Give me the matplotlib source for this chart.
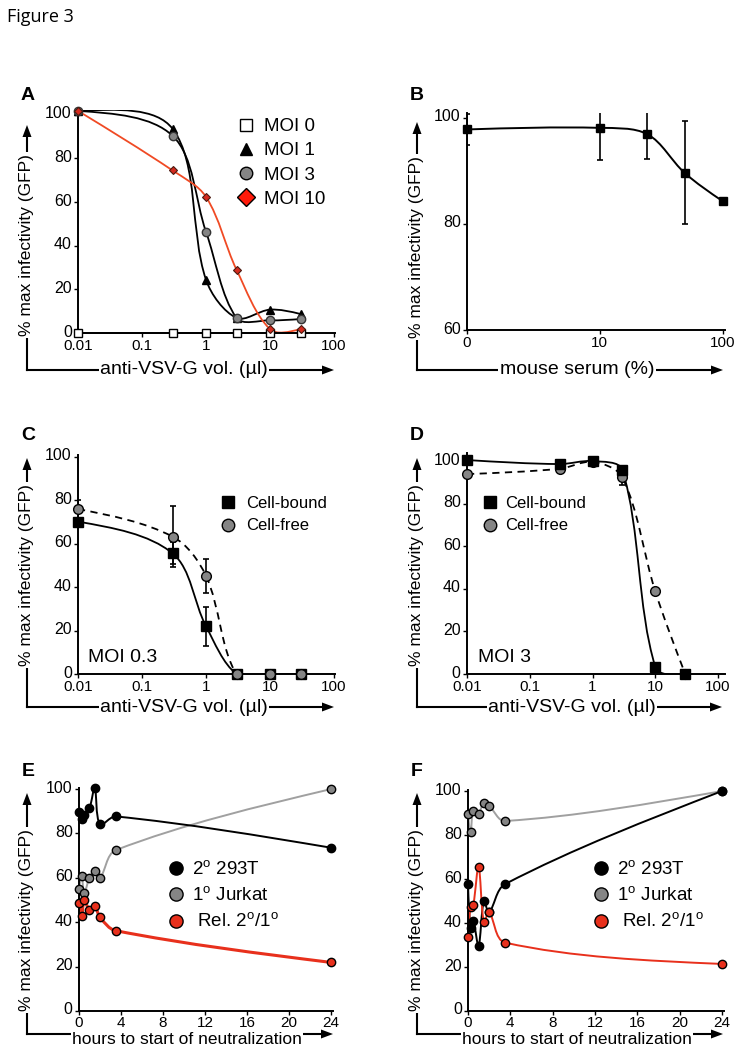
import numpy as np
import matplotlib
matplotlib.use('Agg')
import matplotlib.pyplot as plt
from matplotlib.path import Path
from matplotlib.patches import PathPatch, Polygon
from matplotlib.lines import Line2D
from matplotlib.transforms import Affine2D, ScaledTranslation

plt.rcParams['font.family'] = ['Liberation Sans', 'DejaVu Sans']
plt.rcParams['mathtext.fontset'] = 'custom'
plt.rcParams['mathtext.rm'] = 'Liberation Sans'

# panel A - antibody titration at several MOIs
dose = [0.01, 0.3, 1, 3, 10, 30]
moi0 = [0, 0, 0, 0, 0, 0]
moi1 = [101.8, 93.6, 24.4, 6.9, 10.7, 8.7]
moi3 = [101.8, 90.4, 46.4, 6.9, 5.8, 6.4]
moi10 = [101.8, 74.5, 62.4, 29.0, 1.8, 1.8]

# panel B - mouse serum
serum = [0, 10, 25, 50, 100]
serum_inf = [97.8, 98.1, 96.9, 89.6, 84.3]
serum_err = [3.0, 6.1, 4.7, 9.7, 0]

# panel C - MOI 0.3
c_bound = [70.2, 55.6, 22.0, 0, 0, 0]
c_bound_err = [1.0, 5.0, 9.0, 0, 0, 0]
c_free = [76.0, 63.3, 45.2, 0, 0, 0]
c_free_err = [4.0, 14.0, 8.0, 0, 0, 0]

# panel D - MOI 3
d_bound = [100.5, 98.6, 100.0, 95.8, 3.4, 0]
d_bound_err = [1.0, 1.5, 1.0, 2.0, 1.0, 0]
d_free = [93.9, 96.4, 99.6, 92.3, 38.8, 0]
d_free_err = [1.0, 1.0, 1.0, 3.5, 1.5, 0]

# panels E/F - time course
hours = [0, 0.25, 0.5, 1, 1.5, 2, 3.5, 24]
e_293t = [89.5, 86.5, 88.3, 91.3, 100.5, 84.1, 87.7, 73.6]
e_jurkat = [54.8, 61.0, 53.3, 60.0, 63.2, 60.0, 72.5, 100.0]
e_rel = [48.8, 42.8, 50.0, 45.5, 47.4, 42.2, 36.2, 21.9]
f_293t = [57.7, 37.6, 40.9, 29.7, 50.0, 45.0, 57.7, 100.0]
f_jurkat = [89.4, 81.2, 91.0, 89.8, 94.8, 93.3, 86.4, 100.0]
f_rel = [33.5, 47.1, 48.2, 65.6, 40.3, 44.8, 31.1, 21.4]

W, H = 740, 1056
fig = plt.figure(figsize=(W / 100, H / 100), dpi=100)
# pixel coords, y measured from the top
pix = Affine2D().scale(1 / W, -1 / H).translate(0, 1) + fig.transFigure
lift = ScaledTranslation(0, 2.5 / 100, fig.dpi_scale_trans)

GREY = '#858585'
RED = '#e8301c'


def box(l, r, top, bottom):
    return fig.add_axes([l / W, 1 - bottom / H, (r - l) / W, (bottom - top) / H])


def style(ax):
    for s in ['top', 'right']:
        ax.spines[s].set_visible(False)
    for s in ['left', 'bottom']:
        ax.spines[s].set_linewidth(1.4)
    ax.tick_params(length=3, width=1, pad=1.5)
    ax.tick_params(axis='x', labelsize=11)
    ax.tick_params(axis='y', labelsize=11.5)
    ax.minorticks_off()


def lift_yticks(ax):
    # reference y tick labels sit a little above their ticks
    for t in ax.get_yticklabels():
        t.set_transform(t.get_transform() + lift)


def smooth(ax, xs, ys, **kw):
    # excel-like smoothed line: chord-length catmull-rom as bezier, built in pixel space
    P = ax.transData.transform(np.column_stack([xs, ys]).astype(float))
    n = len(P)
    d = np.hypot(*np.diff(P, axis=0).T)
    verts = [P[0]]
    for i in range(n - 1):
        c1 = c2 = None
        if i > 0:
            c1 = P[i] + (P[i + 1] - P[i - 1]) * d[i] / (d[i - 1] + d[i]) / 3
        if i < n - 2:
            c2 = P[i + 1] - (P[i + 2] - P[i]) * d[i] / (d[i] + d[i + 1]) / 3
        if c1 is None and c2 is None:
            c1 = P[i] + (P[i + 1] - P[i]) / 3
            c2 = P[i + 1] - (P[i + 1] - P[i]) / 3
        elif c1 is None:
            c1 = (P[i] + c2) / 2
        elif c2 is None:
            c2 = (P[i + 1] + c1) / 2
        verts += [c1, c2, P[i + 1]]
    verts = ax.transData.inverted().transform(np.array(verts))
    codes = [Path.MOVETO] + [Path.CURVE4] * (3 * (n - 1))
    ax.add_patch(PathPatch(Path(verts, codes), fill=False, **kw))


def errs(ax, x, y, e):
    x, y, e = np.array(x), np.array(y), np.array(e)
    keep = e > 0
    ax.errorbar(x[keep], y[keep], yerr=e[keep], fmt='none', ecolor='k',
                elinewidth=1.2, capsize=2.5, capthick=1.2, zorder=3)


def frame(xc, yc, ytip, xend, ylab_y, xlab_x, xlabel, xsize=14, xlab_dy=0):
    lw = 1.5
    fig.add_artist(Line2D([xc, xc], [yc, ytip + 8], transform=pix, color='k', lw=lw))
    fig.add_artist(Line2D([xc, xend - 8], [yc, yc], transform=pix, color='k', lw=lw))
    fig.add_artist(Polygon([[xc - 4.5, ytip + 12], [xc + 4.5, ytip + 12], [xc, ytip]],
                           closed=True, transform=pix, fc='k', ec='none'))
    fig.add_artist(Polygon([[xend - 12, yc - 4.5], [xend - 12, yc + 4.5], [xend, yc]],
                           closed=True, transform=pix, fc='k', ec='none'))
    fig.text(xc, ylab_y, '% max infectivity (GFP)', transform=pix, rotation=90,
             ha='center', va='center', fontsize=12.5, zorder=5,
             bbox=dict(fc='white', ec='none', pad=1.5))
    fig.text(xlab_x, yc + xlab_dy, xlabel, transform=pix, ha='center', va='center',
             fontsize=xsize, zorder=5, bbox=dict(fc='white', ec='none', pad=1))


def mk(marker, fc, ms):
    return Line2D([], [], ls='none', marker=marker, mfc=fc, mec='k', mew=1, ms=ms)


def log_axis(ax, right):
    ax.set_xscale('log')
    ax.set_xlim(0.01, right)
    ax.set_xticks([0.01, 0.1, 1, 10, 100])
    ax.set_xticklabels(['0.01', '0.1', '1', '10', '100'])
    ax.minorticks_off()


fig.text(7, 17, 'Figure 3', transform=pix, fontsize=13, family='Open Sans', va='center')
for lab, (x, y) in zip('ABCDEF', [(28, 95), (417, 95), (28, 435), (417, 435), (28, 772), (417, 772)]):
    fig.text(x, y, lab, transform=pix, fontsize=14, fontweight='bold', ha='center', va='center')

# ---- A
ax = box(78, 335, 110, 333)
style(ax)
log_axis(ax, 103.7)
ax.set_ylim(0, 102.2)
ax.set_yticks([0, 20, 40, 60, 80, 100])
lift_yticks(ax)
smooth(ax, dose, moi1, color='k', lw=1.3, zorder=2)
smooth(ax, dose, moi3, color='k', lw=1.3, zorder=2)
smooth(ax, dose, moi10, color='#f04a24', lw=1.3, zorder=2)
ax.plot(dose, moi0, color='k', lw=1.3, marker='s', ms=5.5, mfc='white', mec='k', mew=1, clip_on=False, zorder=4)
ax.plot(dose, moi1, ls='none', marker='^', ms=6, mfc='k', mec='k', clip_on=False, zorder=4)
ax.plot(dose, moi3, ls='none', marker='o', ms=6, mfc=GREY, mec='#333333', mew=1, clip_on=False, zorder=4)
ax.plot(dose, moi10, ls='none', marker='D', ms=4.5, mfc='#d42a1e', mec='#4a1a10', mew=0.8, clip_on=False, zorder=5)
ax.legend([mk('s', 'white', 8.5), mk('^', 'k', 9), mk('o', GREY, 9), mk('D', '#ff1a0a', 9.5)],
          ['MOI 0', 'MOI 1', 'MOI 3', 'MOI 10'], loc='upper left',
          bbox_to_anchor=(238 / W, 1 - 118 / H), bbox_transform=fig.transFigure,
          frameon=False, fontsize=13.5, handlelength=0.8, handletextpad=0.6,
          labelspacing=0.38, borderpad=0, borderaxespad=0)
frame(27, 370, 125, 334, 245, 184, 'anti-VSV-G vol. (µl)')

# ---- B
ax = box(467, 725, 113, 330)
style(ax)
ax.set_xscale('function', functions=(lambda v: np.log10(np.maximum(v, 0) + 1),
                                     lambda v: 10 ** v - 1))
ax.set_xlim(0, 104.6)
ax.set_xticks([0, 10, 100])
ax.set_xticklabels(['0', '10', '100'])
ax.minorticks_off()
ax.set_ylim(60, 100.9)
ax.set_yticks([60, 80, 100])
lift_yticks(ax)
smooth(ax, serum, serum_inf, color='k', lw=1.4, zorder=2)
errs(ax, serum, serum_inf, serum_err)
ax.plot(serum, serum_inf, ls='none', marker='s', ms=6, mfc='k', mec='k', clip_on=False, zorder=4)
frame(417, 370, 122, 723, 247, 577, 'mouse serum (%)')

# ---- C
ax = box(78, 335, 455, 674)
style(ax)
log_axis(ax, 103.7)
ax.set_ylim(0, 100.9)
ax.set_yticks([0, 20, 40, 60, 80, 100])
lift_yticks(ax)
smooth(ax, dose, c_bound, color='k', lw=1.3, zorder=2)
smooth(ax, dose, c_free, color='k', lw=1.3, ls=(0, (4, 3)), zorder=2)
errs(ax, dose, c_bound, c_bound_err)
errs(ax, dose, c_free, c_free_err)
ax.plot(dose, c_bound, ls='none', marker='s', ms=7, mfc='k', mec='k', clip_on=False, zorder=4)
ax.plot(dose, c_free, ls='none', marker='o', ms=7, mfc=GREY, mec='k', mew=1, clip_on=False, zorder=5)
ax.legend([mk('s', 'k', 9), mk('o', GREY, 9)], ['Cell-bound', 'Cell-free'], loc='upper left',
          bbox_to_anchor=(221 / W, 1 - 496 / H), bbox_transform=fig.transFigure,
          frameon=False, fontsize=12, handlelength=0.8, handletextpad=0.7,
          labelspacing=0.45, borderpad=0, borderaxespad=0)
ax.text(88, 657, 'MOI 0.3', transform=pix, fontsize=14, va='center')
frame(27, 707, 458, 334, 575, 184, 'anti-VSV-G vol. (µl)')

# ---- D
ax = box(467, 725, 453, 674)
style(ax)
log_axis(ax, 129)
ax.set_ylim(0, 103.8)
ax.set_yticks([0, 20, 40, 60, 80, 100])
lift_yticks(ax)
smooth(ax, dose, d_bound, color='k', lw=1.3, zorder=2)
smooth(ax, dose, d_free, color='k', lw=1.3, ls=(0, (4, 3)), zorder=2)
errs(ax, dose, d_bound, d_bound_err)
errs(ax, dose, d_free, d_free_err)
ax.plot(dose, d_free, ls='none', marker='o', ms=7, mfc=GREY, mec='k', mew=1, clip_on=False, zorder=4)
ax.plot(dose, d_bound, ls='none', marker='s', ms=7, mfc='k', mec='k', clip_on=False, zorder=5)
ax.legend([mk('s', 'k', 9), mk('o', GREY, 9)], ['Cell-bound', 'Cell-free'], loc='upper left',
          bbox_to_anchor=(483 / W, 1 - 496 / H), bbox_transform=fig.transFigure,
          frameon=False, fontsize=12, handlelength=0.8, handletextpad=0.5,
          labelspacing=0.45, borderpad=0, borderaxespad=0)
ax.text(478, 657, 'MOI 3', transform=pix, fontsize=14, va='center')
frame(417, 707, 458, 722, 575, 572, 'anti-VSV-G vol. (µl)')

# ---- E / F
for (l, r, top), s293, sjur, srel, lx, xc, rlw in [
        ((79, 333, 788), e_293t, e_jurkat, e_rel, 168, 27, 2.2),
        ((468, 724, 790), f_293t, f_jurkat, f_rel, 593, 417, 1.4)]:
    ax = box(l, r, top, 1011)
    style(ax)
    ax.set_xlim(0, 24.2)
    ax.set_xticks([0, 4, 8, 12, 16, 20, 24])
    ax.set_ylim(0, 100.5)
    ax.set_yticks([0, 20, 40, 60, 80, 100])
    lift_yticks(ax)
    ax.tick_params(axis='x', pad=0.5)
    smooth(ax, hours, sjur, color='#a0a0a0', lw=1.4, zorder=2)
    smooth(ax, hours, s293, color='k', lw=1.4, zorder=2)
    smooth(ax, hours, srel, color=RED, lw=rlw, zorder=2)
    ax.plot(hours, sjur, ls='none', marker='o', ms=6, mfc=GREY, mec='k', mew=1, clip_on=False, zorder=4)
    ax.plot(hours, s293, ls='none', marker='o', ms=6, mfc='k', mec='k', clip_on=False, zorder=4)
    ax.plot(hours, srel, ls='none', marker='o', ms=6, mfc=RED, mec='k', mew=1, clip_on=False, zorder=5)
    ax.legend([mk('o', 'k', 9.5), mk('o', GREY, 9.5), mk('o', RED, 9.5)],
              [r'2$^{\mathrm{o}}$ 293T', r'1$^{\mathrm{o}}$ Jurkat', r' Rel. 2$^{\mathrm{o}}$/1$^{\mathrm{o}}$'],
              loc='upper left', bbox_to_anchor=(lx / W, 1 - 860 / H), bbox_transform=fig.transFigure,
              frameon=False, fontsize=13.5, handlelength=0.8, handletextpad=0.5,
              labelspacing=0.4, borderpad=0, borderaxespad=0)
    frame(xc, 1034, 793, xc + 306, 920, xc + 160, 'hours to start of neutralization',
          xsize=12.5, xlab_dy=6)

fig.savefig('out.png', dpi=100)
